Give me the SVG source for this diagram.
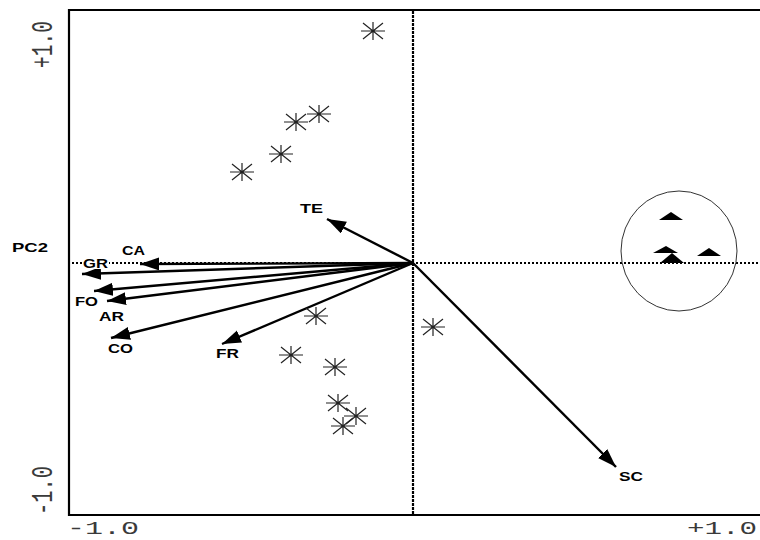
<svg xmlns="http://www.w3.org/2000/svg" width="760" height="540" viewBox="0 0 760 540">
<style>
.frame{stroke:#000;stroke-width:2.2;fill:none}
.dot{stroke:#000;stroke-width:2.2;fill:none}
.vec{stroke:#000;stroke-width:2.4;fill:none;marker-end:url(#head)}
.lbl{font-family:"Liberation Sans",Arial,sans-serif;font-weight:bold;font-size:12.5px;fill:#000}
.num{font-family:"Liberation Mono","Courier New",monospace;fill:#3a3a3a}
.star{stroke:#222;stroke-width:1.2;fill:none}
.tri{fill:#000}
</style>
<defs>
<marker id="head" markerUnits="userSpaceOnUse" markerWidth="20" markerHeight="14" refX="19" refY="6.5" orient="auto">
<path d="M0,0 L19,6.5 L0,13 z" fill="#000"/>
</marker>
<path id="star" class="star" d="M-12,0 H12 M0,-9 V9 M-10,-8 L10,8 M-10,8 L10,-8"/>
</defs>
<rect width="760" height="540" fill="#fff"/>
<g id="axes">
<path class="frame" d="M69,10 H760 M69,9 V516 M69,515 H760"/>
<path class="dot" d="M413,11 V514" stroke-dasharray="3,1"/>
<path class="dot" d="M72,263 H760" stroke-dasharray="2,2"/>
<text class="num" font-size="30" textLength="47" lengthAdjust="spacingAndGlyphs" transform="translate(52,68) rotate(-90)">+1.0</text>
<text class="num" font-size="30" textLength="49" lengthAdjust="spacingAndGlyphs" transform="translate(52,515) rotate(-90)">-1.0</text>
<text class="num" font-size="18" x="67" y="534" textLength="72" lengthAdjust="spacingAndGlyphs">-1.0</text>
<text class="num" font-size="18" x="687" y="534" textLength="70" lengthAdjust="spacingAndGlyphs">+1.0</text>
<text class="lbl" x="12" y="252" textLength="36" lengthAdjust="spacingAndGlyphs">PC2</text>
</g>
<g id="connectors">
<line class="vec" x1="413" y1="263" x2="327" y2="219"/>
<line class="vec" x1="413" y1="263" x2="140" y2="264"/>
<line class="vec" x1="413" y1="263" x2="82" y2="274"/>
<line class="vec" x1="413" y1="263" x2="94" y2="291"/>
<line class="vec" x1="413" y1="263" x2="107" y2="301"/>
<line class="vec" x1="413" y1="263" x2="111" y2="338"/>
<line class="vec" x1="413" y1="263" x2="222" y2="344"/>
<line class="vec" x1="413" y1="263" x2="616" y2="467"/>
</g>
<g id="labels">
<g id="TE"><text class="lbl" x="300" y="213" textLength="23" lengthAdjust="spacingAndGlyphs">TE</text></g>
<g id="CA"><text class="lbl" x="122" y="255" textLength="23" lengthAdjust="spacingAndGlyphs">CA</text></g>
<g id="GR"><rect x="82" y="258" width="27" height="11" fill="#fff"/><text class="lbl" x="83" y="268" textLength="25" lengthAdjust="spacingAndGlyphs">GR</text></g>
<g id="FO"><text class="lbl" x="75" y="306" textLength="23" lengthAdjust="spacingAndGlyphs">FO</text></g>
<g id="AR"><text class="lbl" x="99" y="321" textLength="25" lengthAdjust="spacingAndGlyphs">AR</text></g>
<g id="CO"><text class="lbl" x="108" y="353" textLength="25" lengthAdjust="spacingAndGlyphs">CO</text></g>
<g id="FR"><text class="lbl" x="216" y="358" textLength="23" lengthAdjust="spacingAndGlyphs">FR</text></g>
<g id="SC"><text class="lbl" x="619" y="481" font-size="11" textLength="24" lengthAdjust="spacingAndGlyphs">SC</text></g>
</g>
<g id="stars">
<use href="#star" x="373" y="31"/>
<use href="#star" x="296" y="122"/>
<use href="#star" x="319" y="114"/>
<use href="#star" x="281" y="154"/>
<use href="#star" x="242" y="172"/>
<use href="#star" x="316" y="316"/>
<use href="#star" x="433" y="327"/>
<use href="#star" x="291" y="355"/>
<use href="#star" x="335" y="367"/>
<use href="#star" x="338" y="403"/>
<use href="#star" x="356" y="416"/>
<use href="#star" x="343" y="426"/>
</g>
<g id="group-triangles">
<ellipse cx="679" cy="251" rx="58" ry="60" fill="none" stroke="#333" stroke-width="1"/>
<path class="tri" d="M671,212 L683,220 L659,220 z"/>
<path class="tri" d="M666,246 L678,253 L653,253 z"/>
<path class="tri" d="M672,253 L684,263 L660,263 z"/>
<path class="tri" d="M709,248 L721,256 L697,256 z"/>
</g>
</svg>
